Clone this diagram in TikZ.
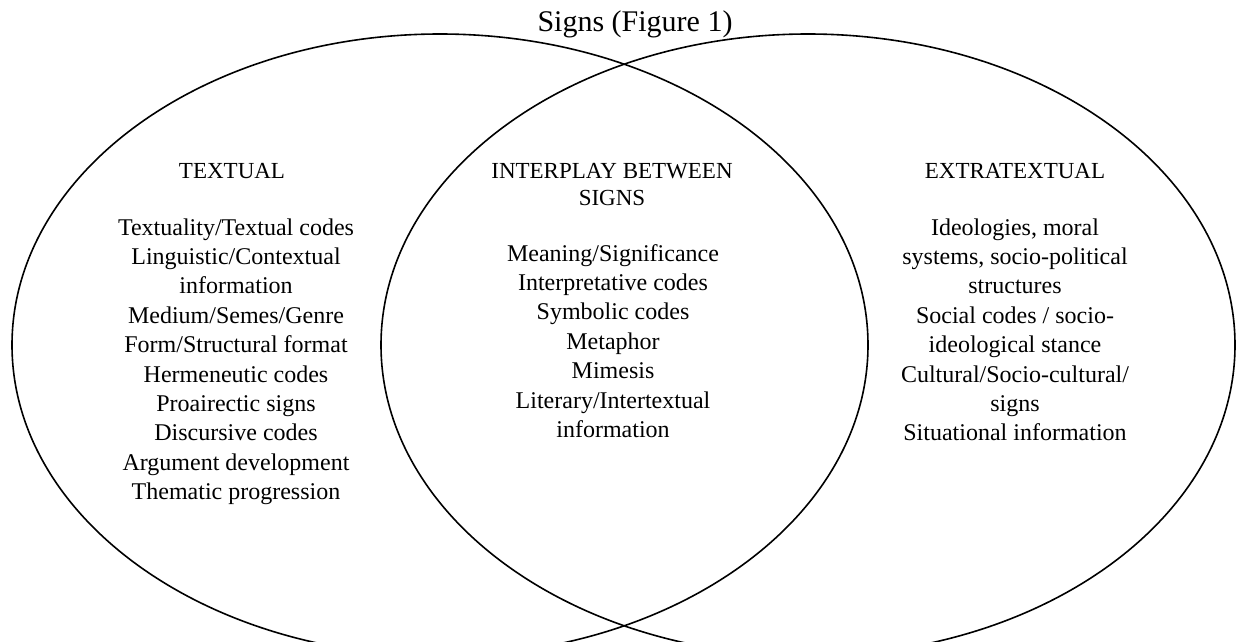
\documentclass[tikz,border=0pt]{standalone}
\usepackage{fontspec}
\setmainfont{Liberation Serif}
\begin{document}
\begin{tikzpicture}[x=1pt,y=1pt,
  ring/.style={draw=black, line width=1.6pt},
  txt/.style={font=\fontsize{24}{29.4}\selectfont, inner sep=0pt, anchor=base},
  hdr/.style={font=\fontsize{23}{27}\selectfont, inner sep=0pt, anchor=base},
  ttl/.style={font=\fontsize{30}{36}\selectfont, inner sep=0pt, anchor=base}]
\useasboundingbox (0,0) rectangle (1243,-642);
% circles
\draw[ring] (440,-345) ellipse [x radius=428, y radius=311];
\draw[ring] (808,-345) ellipse [x radius=427, y radius=311];
% title
\node[ttl] (title) at (635,-32) {Signs (Figure 1)};
% headers
\node[hdr] (hT) at (232,-178) {TEXTUAL};
\node[hdr] (hI1) at (612,-178) {INTERPLAY BETWEEN};
\node[hdr] (hI2) at (612,-205) {SIGNS};
\node[hdr] (hE) at (1015,-178) {EXTRATEXTUAL};
% left column
\foreach \t [count=\i from 0] in {Textuality/Textual codes, Linguistic/Contextual, information, Medium/Semes/Genre, Form/Structural format, Hermeneutic codes, Proairectic signs, Discursive codes, Argument development, Thematic progression}
  \node[txt] (L\i) at (236,{-235-29.4*\i}) {\t};
% middle column
\foreach \t [count=\i from 0] in {Meaning/Significance, Interpretative codes, Symbolic codes, Metaphor, Mimesis, Literary/Intertextual, information}
  \node[txt] (M\i) at (613,{-261-29.4*\i}) {\t};
% right column
\foreach \t [count=\i from 0] in {{Ideologies, moral}, {systems, socio-political}, structures, Social codes / socio-, ideological stance, Cultural/Socio-cultural/, signs, Situational information}
  \node[txt] (R\i) at (1015,{-235-29.4*\i}) {\t};
\end{tikzpicture}
\end{document}
